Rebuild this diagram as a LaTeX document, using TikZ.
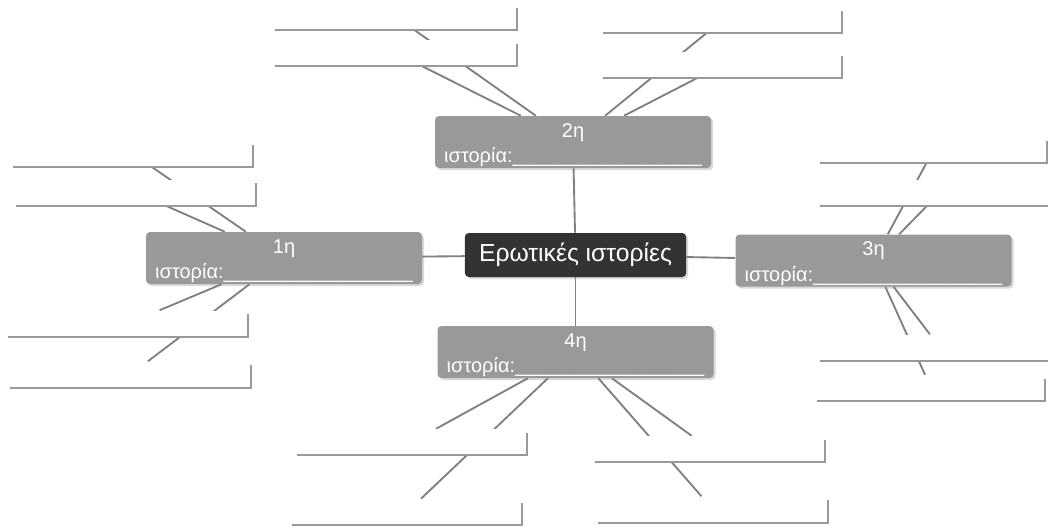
\documentclass[tikz,border=0pt]{standalone}
\usepackage{fontspec}
\setmainfont{Liberation Sans}
\usetikzlibrary{shadows, backgrounds}

\newcommand\storyblank{\_\_\_\_\_\_\_\_\_\_\_\_\_\_\_\_\_}
\newcommand\storylabel[1]{\rule{0pt}{15pt}#1\\ιστορία:\storyblank}

\tikzset{
	hub/.style={fill=black!80, text=white, rounded corners=3pt, inner sep=0pt,
		minimum width=166pt, minimum height=33pt, font=\fontsize{18.5}{22}\selectfont,
		drop shadow={shadow xshift=1.5pt, shadow yshift=-1.5pt, opacity=0.3}},
	story/.style={fill=black!40, text=white, rounded corners=3pt, inner sep=0pt,
		minimum width=207pt, minimum height=39pt, align=center,
		font=\fontsize{15}{19}\selectfont,
		drop shadow={shadow xshift=1.5pt, shadow yshift=-1.5pt, opacity=0.3}},
	field/.style={fill=white, inner sep=0pt, minimum height=19.5pt, minimum width=#1},
	field/.default=180pt,
	link/.style={draw=black!50, line width=1.4pt},
	rim/.style={draw=black!40, line width=1.5pt}
}

\begin{document}
\begin{tikzpicture}[x=0.75pt, y=-0.75pt]
	\useasboundingbox (0,0) rectangle (1048,529);

	\node[hub] (c) at (575.5,255) {Ερωτικές ιστορίες};

	\node[story] (s1) at (284,258) {\storylabel{1η}};
	\node[story] (s2) at (573,142) {\storylabel{2η}};
	\node[story] (s3) at (873.5,260.5) {\storylabel{3η}};
	\node[story] (s4) at (575.5,352) {\storylabel{4η}};

	% empty fields to write in
	\node[field=181.5pt] (f1) at (396,17) {};
	\node[field=181.5pt] (f2) at (396,53) {};
	\node[field=179.25pt] (f3) at (722.5,20) {};
	\node[field=179.25pt] (f4) at (722.5,65) {};
	\node[field] (f5) at (133,154) {};
	\node[field] (f6) at (136,192.5) {};
	\node[field] (f7) at (128,323.5) {};
	\node[field] (f8) at (130.5,374.5) {};
	\node[field=170.25pt] (f9) at (933.5,150) {};
	\node[field] (f10) at (940,192.5) {};
	\node[field] (f11) at (940,347.5) {};
	\node[field=171pt] (f12) at (931,388) {};
	\node[field=172.5pt] (f13) at (412,442) {};
	\node[field=172.5pt] (f14) at (407,512) {};
	\node[field=172.5pt] (f15) at (710,449) {};
	\node[field=172.5pt] (f16) at (713,509.5) {};

	\foreach \i in {1,...,16}
		\draw[rim] (f\i.south west) -| ([yshift=-3pt]f\i.north east);

	\begin{scope}[on background layer]
		\foreach \s in {s1,s2,s3,s4}
			\draw[link] (c) -- (\s);
		\foreach \s/\f in {s2/f1, s2/f2, s2/f3, s2/f4, s1/f5, s1/f6, s1/f7, s1/f8,
			s3/f9, s3/f10, s3/f11, s3/f12, s4/f13, s4/f14, s4/f15, s4/f16}
			\draw[link] (\s) -- (\f);
	\end{scope}
\end{tikzpicture}
\end{document}
